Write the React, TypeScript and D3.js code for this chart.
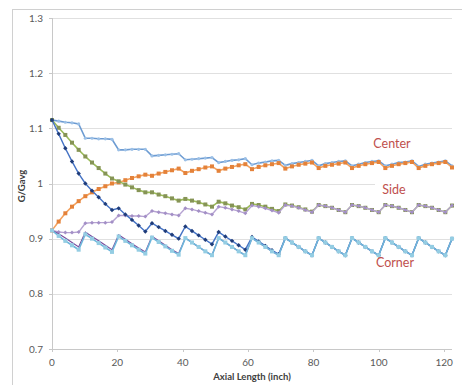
import React from "react";
import * as d3 from "d3";

// Axial positions (inch)
const axial: number[] = [
  0, 2.04, 4.08, 6.12, 8.16, 10.2, 12.24, 14.28, 16.32, 18.36,
  20.4, 22.44, 24.48, 26.52, 28.56, 30.6, 32.64, 34.68, 36.72, 38.76,
  40.8, 42.84, 44.88, 46.92, 48.96, 51.0, 53.04, 55.08, 57.12, 59.16,
  61.2, 63.24, 65.28, 67.32, 69.36, 71.4, 73.44, 75.48, 77.52, 79.56,
  81.6, 83.64, 85.68, 87.72, 89.76, 91.8, 93.84, 95.88, 97.92, 99.96,
  102.0, 104.04, 106.08, 108.12, 110.16, 112.2, 114.24, 116.28, 118.32, 120.36,
  122.4,
];

// Center (from high)
const centerHigh: number[] = [
  1.115, 1.113, 1.111, 1.110, 1.108,
  1.082, 1.082, 1.081, 1.081, 1.080,
  1.061, 1.061, 1.062, 1.062, 1.062,
  1.050, 1.051, 1.052, 1.053, 1.054,
  1.043, 1.044, 1.045, 1.046, 1.047,
  1.038, 1.040, 1.042, 1.043, 1.045,
  1.034, 1.037, 1.039, 1.041, 1.042,
  1.033, 1.036, 1.038, 1.040, 1.042,
  1.032, 1.036, 1.038, 1.040, 1.041,
  1.032, 1.035, 1.038, 1.040, 1.041,
  1.032, 1.035, 1.038, 1.039, 1.041,
  1.031, 1.035, 1.037, 1.039, 1.041,
  1.032,
];

// Center (from low)
const centerLow: number[] = [
  0.915, 0.931, 0.946, 0.958, 0.968,
  0.977, 0.984, 0.990, 0.995, 1.000,
  1.002, 1.006, 1.010, 1.013, 1.016,
  1.014, 1.018, 1.021, 1.024, 1.027,
  1.019, 1.023, 1.026, 1.029, 1.031,
  1.023, 1.027, 1.030, 1.033, 1.035,
  1.026, 1.030, 1.033, 1.035, 1.037,
  1.027, 1.031, 1.034, 1.036, 1.038,
  1.028, 1.032, 1.034, 1.036, 1.038,
  1.028, 1.032, 1.035, 1.037, 1.039,
  1.028, 1.032, 1.035, 1.037, 1.039,
  1.028, 1.032, 1.035, 1.037, 1.039,
  1.029,
];

// Side (from high)
const sideHigh: number[] = [
  1.115, 1.101, 1.088, 1.074, 1.061,
  1.049, 1.038, 1.028, 1.018, 1.009,
  1.004, 0.998, 0.993, 0.988, 0.984,
  0.984, 0.980, 0.977, 0.973, 0.969,
  0.972, 0.969, 0.966, 0.962, 0.958,
  0.967, 0.964, 0.960, 0.957, 0.953,
  0.963, 0.961, 0.958, 0.954, 0.950,
  0.962, 0.960, 0.957, 0.953, 0.949,
  0.961, 0.959, 0.956, 0.952, 0.948,
  0.961, 0.959, 0.956, 0.952, 0.948,
  0.961, 0.959, 0.956, 0.952, 0.948,
  0.961, 0.959, 0.956, 0.952, 0.948,
  0.960,
];

// Side (from low)
const sideLow: number[] = [
  0.915, 0.912, 0.911, 0.911, 0.912,
  0.928, 0.929, 0.929, 0.929, 0.930,
  0.942, 0.942, 0.941, 0.941, 0.940,
  0.950, 0.948, 0.946, 0.944, 0.942,
  0.955, 0.953, 0.950, 0.947, 0.944,
  0.958, 0.956, 0.953, 0.950, 0.946,
  0.960, 0.958, 0.955, 0.951, 0.947,
  0.961, 0.959, 0.956, 0.952, 0.948,
  0.961, 0.959, 0.956, 0.952, 0.948,
  0.961, 0.959, 0.956, 0.952, 0.948,
  0.961, 0.959, 0.956, 0.952, 0.948,
  0.961, 0.959, 0.956, 0.952, 0.948,
  0.960,
];

// Corner (from high)
const cornerHigh: number[] = [
  1.115, 1.090, 1.064, 1.040, 1.018,
  1.000, 0.987, 0.975, 0.963, 0.952,
  0.955, 0.944, 0.934, 0.924, 0.913,
  0.928, 0.921, 0.914, 0.907, 0.900,
  0.922, 0.914, 0.906, 0.898, 0.890,
  0.912, 0.904, 0.896, 0.888, 0.880,
  0.903, 0.895, 0.887, 0.879, 0.872,
  0.901, 0.893, 0.885, 0.877, 0.870,
  0.901, 0.893, 0.885, 0.877, 0.870,
  0.901, 0.893, 0.885, 0.877, 0.870,
  0.901, 0.893, 0.885, 0.877, 0.870,
  0.901, 0.893, 0.885, 0.877, 0.870,
  0.900,
];

// Corner (from low)
const cornerLow: number[] = [
  0.915, 0.905, 0.896, 0.888, 0.880,
  0.908, 0.900, 0.892, 0.884, 0.876,
  0.904, 0.896, 0.888, 0.880, 0.873,
  0.902, 0.894, 0.886, 0.878, 0.871,
  0.901, 0.893, 0.885, 0.877, 0.870,
  0.901, 0.893, 0.885, 0.877, 0.870,
  0.901, 0.893, 0.885, 0.877, 0.870,
  0.901, 0.893, 0.885, 0.877, 0.870,
  0.901, 0.893, 0.885, 0.877, 0.870,
  0.901, 0.893, 0.885, 0.877, 0.870,
  0.901, 0.893, 0.885, 0.877, 0.870,
  0.901, 0.893, 0.885, 0.877, 0.870,
  0.900,
];

// Corner (variant, line only)
const cornerAlt: number[] = [
  0.915, 0.909, 0.901, 0.893, 0.885,
  0.912, 0.904, 0.896, 0.888, 0.880,
  0.907, 0.899, 0.891, 0.883, 0.876,
  0.904, 0.896, 0.888, 0.880, 0.873,
  0.901, 0.893, 0.885, 0.877, 0.870,
  0.901, 0.893, 0.885, 0.877, 0.870,
  0.901, 0.893, 0.885, 0.877, 0.870,
  0.901, 0.893, 0.885, 0.877, 0.870,
  0.901, 0.893, 0.885, 0.877, 0.870,
  0.901, 0.893, 0.885, 0.877, 0.870,
  0.901, 0.893, 0.885, 0.877, 0.870,
  0.901, 0.893, 0.885, 0.877, 0.870,
  0.900,
];

const xTicks: number[] = [0, 20, 40, 60, 80, 100, 120];
const yTicks: number[] = [0.7, 0.8, 0.9, 1.0, 1.1, 1.2, 1.3];
const yTickLabels: string[] = ["0.7", "0.8", "0.9", "1", "1.1", "1.2", "1.3"];

type Marker = "circle" | "square" | "diamond" | "none";
interface SeriesDef {
  values: number[];
  line: string;
  fill: string;
  marker: Marker;
  size: number;
  width: number;
}

const series: SeriesDef[] = [
  { values: centerHigh, line: "#6C9BD2", fill: "#9CC0E6", marker: "circle", size: 1.6, width: 1.6 },
  { values: centerLow, line: "#F4A25E", fill: "#E4823A", marker: "square", size: 4, width: 1.6 },
  { values: sideHigh, line: "#9BBB59", fill: "#869456", marker: "square", size: 4, width: 1.6 },
  { values: sideLow, line: "#B6A3D2", fill: "#A38FC6", marker: "diamond", size: 3.2, width: 1.4 },
  { values: cornerHigh, line: "#4472C4", fill: "#1F3C7A", marker: "diamond", size: 3.6, width: 1.4 },
  { values: cornerAlt, line: "#7A4E9E", fill: "none", marker: "none", size: 0, width: 1.2 },
  { values: cornerLow, line: "#6DB6DB", fill: "#94CDE3", marker: "square", size: 4, width: 1.6 },
];

const W = 462;
const H = 385;
const left = 52;
const right = 452;
const top = 18;
const bottom = 349;

export default function App() {
  const x = d3.scaleLinear().domain([0, 122.4]).range([left, right]);
  const y = d3.scaleLinear().domain([0.7, 1.3]).range([bottom, top]);
  const font = "Lato, 'Open Sans', 'Liberation Sans', sans-serif";

  const lineGen = (vals: number[]) =>
    d3
      .line<number>()
      .x((_, i) => x(axial[i]))
      .y((v) => y(v))(vals) || "";

  const drawMarker = (m: Marker, cx: number, cy: number, s: number, fill: string, key: string) => {
    if (m === "circle") return <circle key={key} cx={cx} cy={cy} r={s} fill={fill} />;
    if (m === "square")
      return <rect key={key} x={cx - s / 2} y={cy - s / 2} width={s} height={s} fill={fill} />;
    if (m === "diamond")
      return (
        <path
          key={key}
          d={`M${cx},${cy - s / 2 - 0.4}L${cx + s / 2 + 0.4},${cy}L${cx},${cy + s / 2 + 0.4}L${cx - s / 2 - 0.4},${cy}Z`}
          fill={fill}
        />
      );
    return null;
  };

  return (
    <svg
      width={W}
      height={H}
      style={{ position: "absolute", left: 0, top: 0, background: "#fff" }}
      fontFamily={font}
    >
      <rect x={0} y={0} width={W} height={H} fill="#fff" />
      {/* chart border */}
      <line x1={12} y1={9.5} x2={W} y2={9.5} stroke="#D0D0D0" />
      <line x1={12.5} y1={9} x2={12.5} y2={H} stroke="#D0D0D0" />

      {/* gridlines */}
      {yTicks.map((t) => (
        <line
          key={"g" + t}
          x1={left}
          x2={right}
          y1={Math.round(y(t)) + 0.5}
          y2={Math.round(y(t)) + 0.5}
          stroke={t === 0.7 ? "#C8C8C8" : "#E0E0E0"}
        />
      ))}
      {/* y axis line */}
      <line x1={left + 0.5} x2={left + 0.5} y1={top} y2={bottom + 0.5} stroke="#C8C8C8" />
      {yTicks.map((t) => (
        <line
          key={"yt" + t}
          x1={left - 3}
          x2={left}
          y1={Math.round(y(t)) + 0.5}
          y2={Math.round(y(t)) + 0.5}
          stroke="#C8C8C8"
        />
      ))}
      {xTicks.map((t) => (
        <line
          key={"xt" + t}
          x1={Math.round(x(t)) + 0.5}
          x2={Math.round(x(t)) + 0.5}
          y1={bottom}
          y2={bottom + 3}
          stroke="#C8C8C8"
        />
      ))}

      {/* tick labels */}
      {yTicks.map((t, i) => (
        <text
          key={"yl" + t}
          x={43}
          y={y(t) + 3.5}
          textAnchor="end"
          fontSize={10}
          fill="#595959"
        >
          {yTickLabels[i]}
        </text>
      ))}
      {xTicks.map((t) => (
        <text key={"xl" + t} x={x(t)} y={366} textAnchor="middle" fontSize={10} fill="#595959">
          {t}
        </text>
      ))}

      {/* axis titles */}
      <text x={252} y={380} textAnchor="middle" fontSize={9.5} fontWeight="bold" fill="#404040">
        Axial Length (inch)
      </text>
      <text
        transform={`translate(25,186) rotate(-90)`}
        textAnchor="middle"
        fontSize={9.5}
        fontWeight="bold"
        fill="#404040"
      >
        G/Gavg
      </text>

      {/* series */}
      {series.map((s, si) => (
        <g key={"s" + si}>
          <path d={lineGen(s.values)} fill="none" stroke={s.line} strokeWidth={s.width} />
          {s.marker !== "none" &&
            s.values.map((v, i) => drawMarker(s.marker, x(axial[i]), y(v), s.size, s.fill, `m${si}-${i}`))}
        </g>
      ))}

      {/* labels */}
      <rect x={375} y={177} width={80} height={23} fill="#fff" />
      <text x={392} y={148} textAnchor="middle" fontSize={12.5} fill="#C0504D">
        Center
      </text>
      <text x={394} y={194} textAnchor="middle" fontSize={12.5} fill="#C0504D">
        Side
      </text>
      <text x={395} y={267} textAnchor="middle" fontSize={12.5} fill="#C0504D">
        Corner
      </text>
    </svg>
  );
}
